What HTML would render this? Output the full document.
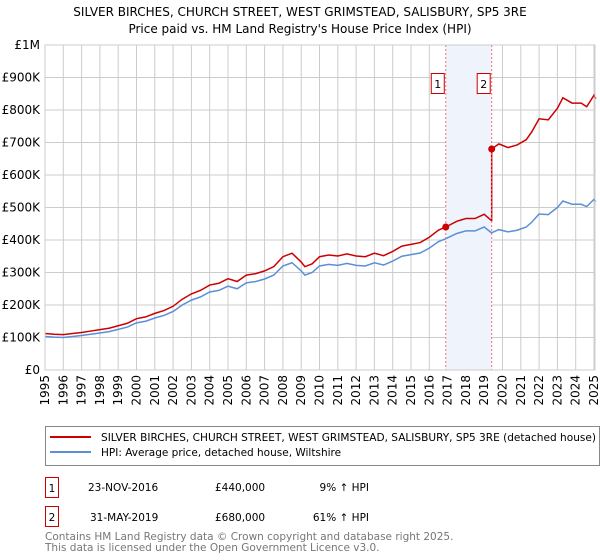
<!DOCTYPE html>
<html><head><meta charset="utf-8"><style>
body{margin:0;background:#fff;font-family:"DejaVu Sans","Liberation Sans",sans-serif;}
#c{position:absolute;left:0;top:0;}
</style></head><body>
<svg id="c" width="600" height="560" xmlns="http://www.w3.org/2000/svg" font-family="DejaVu Sans, Liberation Sans, sans-serif">
<text x="300" y="16" text-anchor="middle" font-size="12">SILVER BIRCHES, CHURCH STREET, WEST GRIMSTEAD, SALISBURY, SP5 3RE</text>
<text x="300" y="33" text-anchor="middle" font-size="12">Price paid vs. HM Land Registry's House Price Index (HPI)</text>
<g id="grid"></g><g id="shade"></g><g id="lines"></g><g id="axes"></g>
<g>
<rect x="45.5" y="426.5" width="554" height="39" fill="#fff" stroke="#888"/>
<line x1="50" y1="437" x2="91" y2="437" stroke="#cc0000" stroke-width="2"/>
<text x="101" y="441" font-size="10.5" textLength="495" lengthAdjust="spacingAndGlyphs">SILVER BIRCHES, CHURCH STREET, WEST GRIMSTEAD, SALISBURY, SP5 3RE (detached house)</text>
<line x1="50" y1="452" x2="91" y2="452" stroke="#5b8fd6" stroke-width="2"/>
<text x="101" y="456" font-size="10.5">HPI: Average price, detached house, Wiltshire</text>
</g>
<g font-size="10.5">
<rect x="45.5" y="477.5" width="13" height="20" fill="#fff" stroke="#cc0000"/><text x="52" y="492" text-anchor="middle">1</text>
<text x="88" y="491">23-NOV-2016</text><text x="215" y="491">£440,000</text><text x="369" y="491" text-anchor="end">9% ↑ HPI</text>
<rect x="45.5" y="506.5" width="13" height="20" fill="#fff" stroke="#cc0000"/><text x="52" y="521" text-anchor="middle">2</text>
<text x="90" y="521">31-MAY-2019</text><text x="215" y="521">£680,000</text><text x="369" y="521" text-anchor="end">61% ↑ HPI</text>
</g>
<text x="45" y="540" font-size="10.5" fill="#777">Contains HM Land Registry data © Crown copyright and database right 2025.</text>
<text x="45" y="551" font-size="10.5" fill="#777">This data is licensed under the Open Government Licence v3.0.</text>
</svg>
<script>
const years=[1995,1995.5,1996,1996.5,1997,1997.5,1998,1998.5,1999,1999.5,2000,2000.5,2001,2001.5,2002,2002.5,2003,2003.5,2004,2004.5,2005,2005.5,2006,2006.5,2007,2007.5,2008,2008.5,2009,2009.2,2009.6,2010,2010.5,2011,2011.5,2012,2012.5,2013,2013.5,2014,2014.5,2015,2015.5,2016,2016.5,2016.9,2017.5,2018,2018.5,2019,2019.4,2019.8,2020.3,2020.8,2021.3,2021.6,2022,2022.5,2023,2023.3,2023.8,2024.3,2024.6,2025,2025.1];
const hpi=[103,101,100,103,106,110,114,118,125,132,145,150,160,168,180,200,215,225,240,245,258,250,268,272,280,292,320,330,305,292,300,320,325,322,328,322,320,330,323,335,350,355,360,375,395,404,420,428,428,440,422,432,425,430,440,455,480,478,500,520,510,510,503,525,518];
const saleYears=[2016.9,2019.41];
const salePrices=[440,680];
const yTicks=[0,100,200,300,400,500,600,700,800,900,1000];
const yLabels=["£0","£100K","£200K","£300K","£400K","£500K","£600K","£700K","£800K","£900K","£1M"];
const xTicks=[];for(let y=1995;y<=2025;y++)xTicks.push(y);
const X=y=>45+(y-1995)*18.3, Y=v=>370-v*0.325;
const NS="http://www.w3.org/2000/svg";
function mk(t,a,p){const e=document.createElementNS(NS,t);for(const k in a)e.setAttribute(k,a[k]);p.appendChild(e);return e;}
const G=document.getElementById('grid'),A=document.getElementById('axes'),L=document.getElementById('lines'),S=document.getElementById('shade');
yTicks.forEach((v,i)=>{const l=mk('line',{x1:45,x2:595,y1:Y(v),y2:Y(v),stroke:'#ccc'},G);


const t=mk('text',{x:40,y:Y(v)+4,'text-anchor':'end','font-size':12},A);t.textContent=yLabels[i];

});
xTicks.forEach(y=>{const l=mk('line',{x1:X(y),x2:X(y),y1:45,y2:370,stroke:'#ccc'},G);


const t=mk('text',{transform:`translate(${X(y)+4},375) rotate(-90)`,'text-anchor':'end','font-size':12},A);t.textContent=y;

});
const sh=mk('rect',{x:X(saleYears[0]),y:45,width:X(saleYears[1])-X(saleYears[0]),height:325,fill:'#eef3fc'},S);


function hAt(t){for(let i=1;i<years.length;i++)if(t<=years[i]){const f=(t-years[i-1])/(years[i]-years[i-1]);return hpi[i-1]+f*(hpi[i]-hpi[i-1]);}return hpi[hpi.length-1];}
const r1=salePrices[0]/hAt(saleYears[0]);
let rp=[];
years.forEach((y,i)=>{let v;if(y<saleYears[0])v=hpi[i]*r1;else if(y<saleYears[1])v=salePrices[0]*hpi[i]/hAt(saleYears[0]);else return;rp.push([y,v]);});
rp.push([saleYears[0],salePrices[0]]);rp.sort((a,b)=>a[0]-b[0]);
rp.push([saleYears[1],salePrices[0]*hAt(saleYears[1])/hAt(saleYears[0])]);
rp.push([saleYears[1],salePrices[1]]);
years.forEach((y,i)=>{if(y>saleYears[1])rp.push([y,salePrices[1]*hpi[i]/hAt(saleYears[1])]);});
const bl=mk('polyline',{points:years.map((y,i)=>X(y)+','+Y(hpi[i])).join(' '),fill:'none',stroke:'#5b8fd6','stroke-width':1.5},L);


const rl=mk('polyline',{points:rp.map(p=>X(p[0])+','+Y(p[1])).join(' '),fill:'none',stroke:'#cc0000','stroke-width':1.5},L);


saleYears.forEach((y,i)=>{
const d=mk('line',{x1:X(y),x2:X(y),y1:45,y2:370,stroke:'#f07070','stroke-dasharray':'2,2'},L);


const c=mk('circle',{cx:X(y),cy:Y(salePrices[i]),r:3.5,fill:'#cc0000'},L);


const b=mk('rect',{x:X(y)-14.5,y:73.5,width:13,height:20,fill:'#fff',stroke:'#cc0000'},L);


const t=mk('text',{x:X(y)-8,y:88,'text-anchor':'middle','font-size':11},L);t.textContent=i+1;

});
mk('rect',{x:45,y:45,width:550,height:325,fill:'none',stroke:'#ccc'},A);
</script>
</body></html>
